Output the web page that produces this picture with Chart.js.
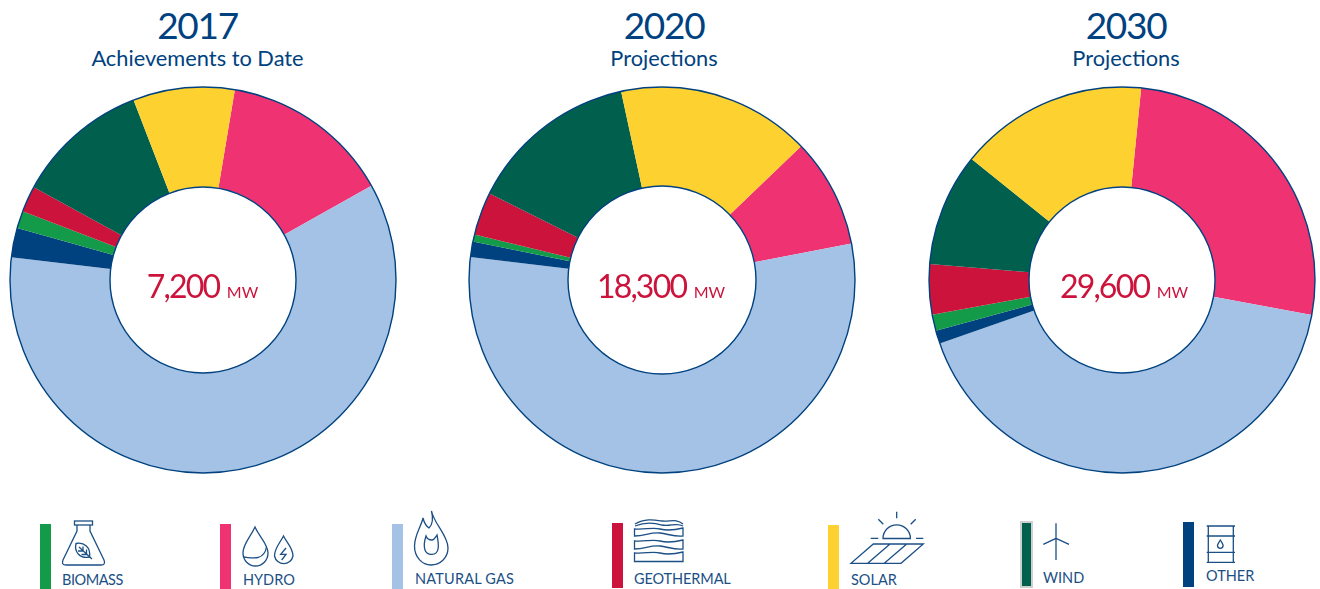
<!DOCTYPE html>
<html>
<head>
<meta charset="utf-8">
<title>Capacity mix</title>
<script src="https://cdn.jsdelivr.net/npm/chart.js@4"></script>
<style>
    html, body { margin: 0; padding: 0; background: #fff; }
    body { position: relative; width: 1320px; height: 589px; overflow: hidden; font-family: Lato, sans-serif; }
    canvas { position: absolute; top: 80px; width: 400px; height: 400px; }
    #pie0 { left: 2.5px; }
    #pie1 { left: 462px; }
    #pie2 { left: 922px; }
    .year, .sub, .total { position: absolute; width: 300px; text-align: center; white-space: nowrap; }
    .year { top: 2px; font-size: 37px; line-height: 46px; letter-spacing: -1.3px; color: #00427f; }
    .sub { top: 44px; font-size: 21.8px; line-height: 28px; color: #00427f; }
    .total { top: 265px; font-size: 32px; line-height: 42px; letter-spacing: -1.8px; color: #cc133c; }
    .total small { font-size: 16px; margin-left: 7.5px; letter-spacing: 0; }
    .c0 { left: 47.5px; }
    .c1 { left: 514px; }
    .c2 { left: 976px; }
    .t0 { left: 52.5px; }
    .t1 { left: 511px; }
    .t2 { left: 974px; }
    .swatch { position: absolute; width: 11px; }
    .label { position: absolute; font-size: 14.5px; line-height: 16px; color: #1b4f85; white-space: nowrap; }
    #icons { position: absolute; left: 0; top: 0; }
    #icons * { fill: none; stroke: #1b4f85; stroke-width: 1.3; }
</style>
</head>
<body>
<canvas id="pie0" width="400" height="400"></canvas>
<canvas id="pie1" width="400" height="400"></canvas>
<canvas id="pie2" width="400" height="400"></canvas>

<div class="year c0" id="year0"></div><div class="sub c0" id="sub0"></div><div class="total t0" id="total0"></div>
<div class="year c1" id="year1"></div><div class="sub c1" id="sub1"></div><div class="total t1" id="total1"></div>
<div class="year c2" id="year2"></div><div class="sub c2" id="sub2"></div><div class="total t2" id="total2"></div>

<div class="swatch" id="sw-BIOMASS" style="left:40px;top:524px;height:65px"></div>
<div class="swatch" id="sw-HYDRO" style="left:220px;top:524px;height:65px"></div>
<div class="swatch" id="sw-NATURALGAS" style="left:392px;top:524px;height:65px"></div>
<div class="swatch" id="sw-GEOTHERMAL" style="left:612px;top:523px;height:65px"></div>
<div class="swatch" id="sw-SOLAR" style="left:828px;top:525px;height:64px"></div>
<div class="swatch" id="sw-WIND" style="left:1020px;top:521px;height:63px;width:8.5px;border:2px solid #cfcfcf"></div>
<div class="swatch" id="sw-OTHER" style="left:1183px;top:522px;height:65px"></div>

<div class="label" style="left:62px;top:572px;letter-spacing:-0.45px" id="lb-BIOMASS"></div>
<div class="label" style="left:243px;top:572px" id="lb-HYDRO"></div>
<div class="label" style="left:415px;top:571px;letter-spacing:0.2px" id="lb-NATURALGAS"></div>
<div class="label" style="left:634px;top:571px;letter-spacing:-0.1px" id="lb-GEOTHERMAL"></div>
<div class="label" style="left:851px;top:572px" id="lb-SOLAR"></div>
<div class="label" style="left:1043px;top:570px" id="lb-WIND"></div>
<div class="label" style="left:1206px;top:568px" id="lb-OTHER"></div>

<svg id="icons" width="1320" height="589" viewBox="0 0 1320 589">
    <!-- flask -->
    <rect x="74.5" y="521" width="18" height="4"/>
    <path d="M77 525V531L63 560Q61 565 66 565H101Q106 565 104 560L90 531V525"/>
    <path d="M76 543.5C84 542 91 547 89.5 557C80 559 74 552 76 543.5Z"/>
    <path d="M79 547L92 559M83 551V546.5M83 551H78M86.5 554.5V549.5M86.5 554.5H81.5"/>
    <!-- drops -->
    <path d="M255 527C250 538 243 544 243 553A12.5 13 0 0 0 268 553C268 544 260 538 255 527Z"/>
    <path d="M244 557C252 558 264 561 266.5 547"/>
    <path d="M283.5 536C280 543 274.5 548 274.5 556A9.5 10 0 0 0 293 556C293 548 287 543 283.5 536Z"/>
    <path d="M286 548L280.7 554.3H286L281.7 560"/>
    <!-- flame -->
    <path d="M431.5 511C434 524 448 535 448 548C448 558 440 565 431 565C422 565 414.5 557 414.5 546C414.5 535 421 527 423 518C424 522 426 526 429 528C433 524 433 517 431.5 511Z"/>
    <path d="M437 535C435 538 434 540 432 540C429 540 427 539 426 536C424 542 424 547 425 550C427 556 437 556 438 549C439 545 438 540 437 535Z"/>
    <!-- strata -->
    <path d="M635 524C645 518 655 520 662 521C670 522 676 518 683 524"/>
    <path d="M635 526C645 522 655 523 662 525C670 527 676 522 683 526"/>
    <path d="M634.5 529C645 530 652 527 660 529C668 531 675 530 683 528V536C675 537 668 534 660 533C650 532 645 536 634.5 536Z"/>
    <path d="M634.5 541C645 542 652 539 660 541C668 543 675 542 683 540V549C675 550 668 547 660 546C650 545 645 549 634.5 549Z"/>
    <path d="M634.5 553C645 554 652 551 660 553C668 555 675 554 683 552V561.5H634.5Z"/>
    <!-- sun and panel -->
    <path d="M883 538.5A13.7 13.7 0 0 1 910.4 538.5Z"/>
    <path d="M896.7 511.7V518.3M878.3 519.3L883.3 524.3M915.7 519.3L910.7 524.3M870.7 538.3H878.3M916 538.3H923.3"/>
    <path d="M873.3 544H923.3L901 563.3H851ZM890 544L867.7 563.3M906.7 544L884.3 563.3"/>
    <!-- turbine -->
    <path d="M1056 523.3V560M1056 538.3L1043.3 544.3M1056 538.3L1069 544.3"/>
    <!-- barrel -->
    <path d="M1206.7 526H1235M1206.7 562.3H1235M1206.7 536H1235M1206.7 552.3H1235M1208.3 526V562.3M1233.3 526V562.3"/>
    <path d="M1220.3 540C1218.5 543 1217.5 544 1217.5 545.5A2.8 2.8 0 0 0 1223.1 545.5C1223.1 544 1222 543 1220.3 540Z"/>
</svg>

<script>
"use strict";

// slice order runs clockwise from the start angle of each ring
const categories = ["HYDRO", "NATURAL GAS", "OTHER", "BIOMASS", "GEOTHERMAL", "WIND", "SOLAR"];
const sliceColors = ["#ef3372", "#a4c2e5", "#00427f", "#149b4a", "#cc133c", "#005f4d", "#fdd130"];

// percent of capacity
const share2017 = [14.25, 60, 2.45, 1.45, 2.2, 11.15, 8.5];
const share2020 = [9.17, 54.9, 1.3, 0.6, 3.6, 14.2, 16.2];
const share2030 = [26.3, 41.75, 1.1, 1.35, 4.2, 9.45, 15.8];

const years = ["2017", "2020", "2030"];
const subtitles = ["Achievements to Date", "Projections", "Projections"];
const totals = ["7,200", "18,300", "29,600"];
const startAngles = [9.5, 46.1, 5.7];
const innerRadii = [93, 94, 93];

const outlinePlugin = {
    id: "outline",
    afterDatasetsDraw(chart) {
        const arc = chart.getDatasetMeta(0).data[0];
        const ctx = chart.ctx;
        ctx.save();
        ctx.strokeStyle = "#00427f";
        ctx.lineWidth = 1.4;
        [arc.outerRadius, arc.innerRadius].forEach((r) => {
            ctx.beginPath();
            ctx.arc(arc.x, arc.y, r, 0, Math.PI * 2);
            ctx.stroke();
        });
        ctx.restore();
    }
};

function renderPie(index, values) {
    new Chart(document.getElementById(`pie${index}`), {
        type: "doughnut",
        data: {
            labels: categories,
            datasets: [{
                data: values,
                backgroundColor: sliceColors,
                borderWidth: 0,
                hoverOffset: 0
            }]
        },
        options: {
            responsive: false,
            animation: false,
            rotation: startAngles[index],
            cutout: innerRadii[index],
            layout: { padding: 7 },
            plugins: {
                legend: { display: false },
                tooltip: { enabled: false }
            }
        },
        plugins: [outlinePlugin]
    });

    document.getElementById(`year${index}`).textContent = years[index];
    document.getElementById(`sub${index}`).textContent = subtitles[index];
    document.getElementById(`total${index}`).innerHTML = `${totals[index]}<small>MW</small>`;
}

[share2017, share2020, share2030].forEach((values, index) => {
    renderPie(index, values);
});

categories.forEach((name, i) => {
    let key = name.replace(" ", "");
    document.getElementById(`sw-${key}`).style.background = sliceColors[i];
    document.getElementById(`lb-${key}`).textContent = name;
});
</script>
</body>
</html>
